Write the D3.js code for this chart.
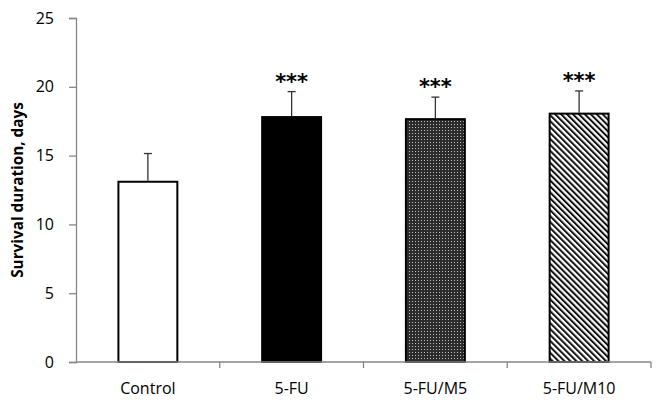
<!DOCTYPE html>
<html>
<head>
<meta charset="utf-8">
<script src="https://cdn.jsdelivr.net/npm/d3@7"></script>
<style>
  body { margin: 0; background: #fff; }
  svg { display: block; }
</style>
</head>
<body>
<div id="chart"></div>
<script>
// data
const groups = ["Control", "5-FU", "5-FU/M5", "5-FU/M10"];
const means = [13.1, 17.8, 17.65, 18.05];
const errors = [2.05, 1.85, 1.6, 1.65];
const signif = ["", "***", "***", "***"];
const yTicks = [0, 5, 10, 15, 20, 25];

const W = 657, H = 408;
const margin = { top: 18, right: 6, bottom: 46, left: 76 };

const svg = d3.select("#chart").append("svg")
  .attr("width", W)
  .attr("height", H);

// fills for the bars
const defs = svg.append("defs");
const dots = defs.append("pattern")
  .attr("id", "dots")
  .attr("patternUnits", "userSpaceOnUse")
  .attr("width", 3).attr("height", 3);
dots.append("rect").attr("width", 3).attr("height", 3).attr("fill", "#2c2c2c");
dots.append("rect").attr("x", 1).attr("y", 1).attr("width", 1).attr("height", 1).attr("fill", "#bdbdbd");

const hatch = defs.append("pattern")
  .attr("id", "hatch")
  .attr("patternUnits", "userSpaceOnUse")
  .attr("width", 4.2).attr("height", 4.2)
  .attr("patternTransform", "rotate(-45)");
hatch.append("rect").attr("width", 4.2).attr("height", 4.2).attr("fill", "#fff");
hatch.append("rect").attr("width", 2).attr("height", 4.2).attr("fill", "#111");

const fills = ["#fff", "#000", "url(#dots)", "url(#hatch)"];

const x = d3.scaleBand()
  .domain(groups)
  .range([margin.left, W - margin.right])
  .paddingInner(0.59)
  .paddingOuter(0.295);

const y = d3.scaleLinear()
  .domain([0, 25])
  .range([H - margin.bottom, margin.top]);

const axisColor = "#868686";

// y axis
const yAxis = svg.append("g")
  .attr("transform", `translate(${margin.left},0)`)
  .call(d3.axisLeft(y).tickValues(yTicks).tickSize(7).tickPadding(15));
yAxis.select(".domain").attr("stroke", axisColor).attr("stroke-width", 1.3);
yAxis.selectAll(".tick line").attr("stroke", axisColor).attr("stroke-width", 1.3);
yAxis.selectAll(".tick text")
  .attr("fill", "#000")
  .style("font-family", "'Open Sans', sans-serif")
  .style("font-size", "16px");

// bars
svg.append("g").selectAll("rect")
  .data(groups)
  .join("rect")
  .attr("x", d => x(d))
  .attr("width", x.bandwidth())
  .attr("y", (d, i) => y(means[i]))
  .attr("height", (d, i) => y(0) - y(means[i]))
  .attr("fill", (d, i) => fills[i])
  .attr("stroke", "#000")
  .attr("stroke-width", 2);

// error bars (upper only)
const err = svg.append("g").selectAll("g")
  .data(groups)
  .join("g");
err.append("line")
  .attr("x1", d => x(d) + x.bandwidth() / 2)
  .attr("x2", d => x(d) + x.bandwidth() / 2)
  .attr("y1", (d, i) => y(means[i]) - 1)
  .attr("y2", (d, i) => y(means[i] + errors[i]))
  .attr("stroke", "#333").attr("stroke-width", 1.3);
err.append("line")
  .attr("x1", d => x(d) + x.bandwidth() / 2 - 4)
  .attr("x2", d => x(d) + x.bandwidth() / 2 + 4)
  .attr("y1", (d, i) => y(means[i] + errors[i]))
  .attr("y2", (d, i) => y(means[i] + errors[i]))
  .attr("stroke", "#333").attr("stroke-width", 1.3);

// significance stars
svg.append("g").selectAll("text")
  .data(groups)
  .join("text")
  .attr("x", d => x(d) + x.bandwidth() / 2)
  .attr("y", (d, i) => y(means[i] + errors[i]) - 3)
  .attr("text-anchor", "middle")
  .style("font-family", "'DejaVu Sans', sans-serif")
  .style("font-size", "21px")
  .style("font-weight", "bold")
  .attr("fill", "#000")
  .text((d, i) => signif[i]);

// x axis (ticks on band boundaries)
const xAxisG = svg.append("g").attr("transform", `translate(0,${y(0)})`);
xAxisG.append("line")
  .attr("x1", margin.left).attr("x2", W - margin.right)
  .attr("y1", 0).attr("y2", 0)
  .attr("stroke", axisColor).attr("stroke-width", 1.3);
const edges = groups.map(d => x(d) - x.step() * x.paddingInner() / 2).slice(1)
  .concat([W - margin.right]);
xAxisG.selectAll(".xtick")
  .data(edges)
  .join("line")
  .attr("class", "xtick")
  .attr("x1", d => d).attr("x2", d => d)
  .attr("y1", 0).attr("y2", 6)
  .attr("stroke", axisColor).attr("stroke-width", 1.3);
xAxisG.selectAll(".xlabel")
  .data(groups)
  .join("text")
  .attr("class", "xlabel")
  .attr("x", d => x(d) + x.bandwidth() / 2)
  .attr("y", 32)
  .attr("text-anchor", "middle")
  .style("font-family", "'Open Sans', sans-serif")
  .style("font-size", "16px")
  .text(d => d);

// y axis title
svg.append("text")
  .attr("transform", `translate(23,${(margin.top + y(0)) / 2}) rotate(-90)`)
  .attr("text-anchor", "middle")
  .style("font-family", "'Open Sans', sans-serif")
  .style("font-size", "15.3px")
  .style("font-weight", "bold")
  .text("Survival duration, days");
</script>
</body>
</html>
